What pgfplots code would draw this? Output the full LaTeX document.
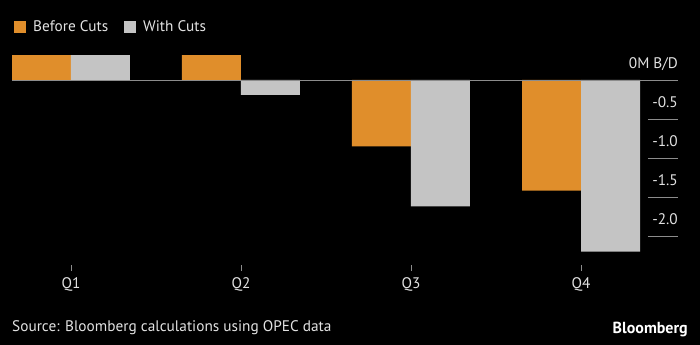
\documentclass[border=0pt]{standalone}
\usepackage{pgfplots}
\pgfplotsset{compat=1.18}
\usepackage{fontspec}
\setmainfont{PT Sans}
\definecolor{borange}{HTML}{E08E2B}
\definecolor{bgray}{HTML}{C4C4C4}
\definecolor{btext}{HTML}{E2E2E2}
\definecolor{bline}{HTML}{8C8C8C}
\newcommand{\bfont}{\fontsize{15.3bp}{18bp}\selectfont}
\begin{document}
\begin{tikzpicture}
\fill[black] (0,0) rectangle (700bp,345bp);
\begin{axis}[
  at={(12bp,80bp)}, anchor=south west,
  scale only axis, width=666bp, height=216.2bp,
  xmin=-0.347, xmax=3.5706, ymin=-2.372, ymax=0.4,
  axis x line*=bottom, axis y line=none,
  x axis line style={draw=none},
  xtick={0,1,2,3}, xticklabels={Q1,Q2,Q3,Q4},
  xtick style={color=bline, line width=0.8pt},
  major tick length=6bp, tick align=outside,
  xticklabel style={text=btext, font=\bfont, yshift=-3bp},
  ybar=0pt, bar width=59bp,
  legend columns=2,
  legend style={at={(axis description cs:0.003,1.10)}, anchor=west, draw=none, fill=none,
    text=btext, font=\bfont, inner sep=0pt,
    /tikz/every odd column/.append style={column sep=5bp},
    /tikz/every even column/.append style={column sep=14bp}},
  legend image code/.code={\fill[#1] (0bp,-6bp) rectangle (12bp,6bp);},
]
\addplot[fill=borange, draw=none] coordinates {(0,0.32) (1,0.32) (2,-0.85) (3,-1.42)};
\addlegendentry{Before Cuts}
\addplot[fill=bgray, draw=none] coordinates {(0,0.32) (1,-0.19) (2,-1.62) (3,-2.2)};
\addlegendentry{With Cuts}
\draw[bline, line width=0.8pt] (axis cs:-0.347,0) -- (axis cs:3.5706,0);
\foreach \v in {-0.5,-1.0,-1.5,-2.0}{
  \edef\tmp{\noexpand\draw[bline, line width=0.8pt] (axis cs:3.394,\v) -- (axis cs:3.5706,\v);}\tmp
}
\node[anchor=base east, inner sep=0pt, text=btext, font=\bfont] at ([yshift=11bp]axis cs:3.5706,0) {0M B/D};
\node[anchor=base east, inner sep=0pt, text=btext, font=\bfont] at ([yshift=11bp]axis cs:3.5706,-0.5) {-0.5};
\node[anchor=base east, inner sep=0pt, text=btext, font=\bfont] at ([yshift=11bp]axis cs:3.5706,-1.0) {-1.0};
\node[anchor=base east, inner sep=0pt, text=btext, font=\bfont] at ([yshift=11bp]axis cs:3.5706,-1.5) {-1.5};
\node[anchor=base east, inner sep=0pt, text=btext, font=\bfont] at ([yshift=11bp]axis cs:3.5706,-2.0) {-2.0};
\end{axis}
\node[anchor=base west, inner sep=0pt, text=btext, font=\bfont] at (12bp,14bp) {Source: Bloomberg calculations using OPEC data};
\node[anchor=base east, inner sep=0pt, text=white, font=\bfseries\fontsize{16bp}{18bp}\selectfont] at (688bp,12bp) {Bloomberg};
\pgfresetboundingbox
\path (0,0) rectangle (700bp,345bp);
\end{tikzpicture}
\end{document}
